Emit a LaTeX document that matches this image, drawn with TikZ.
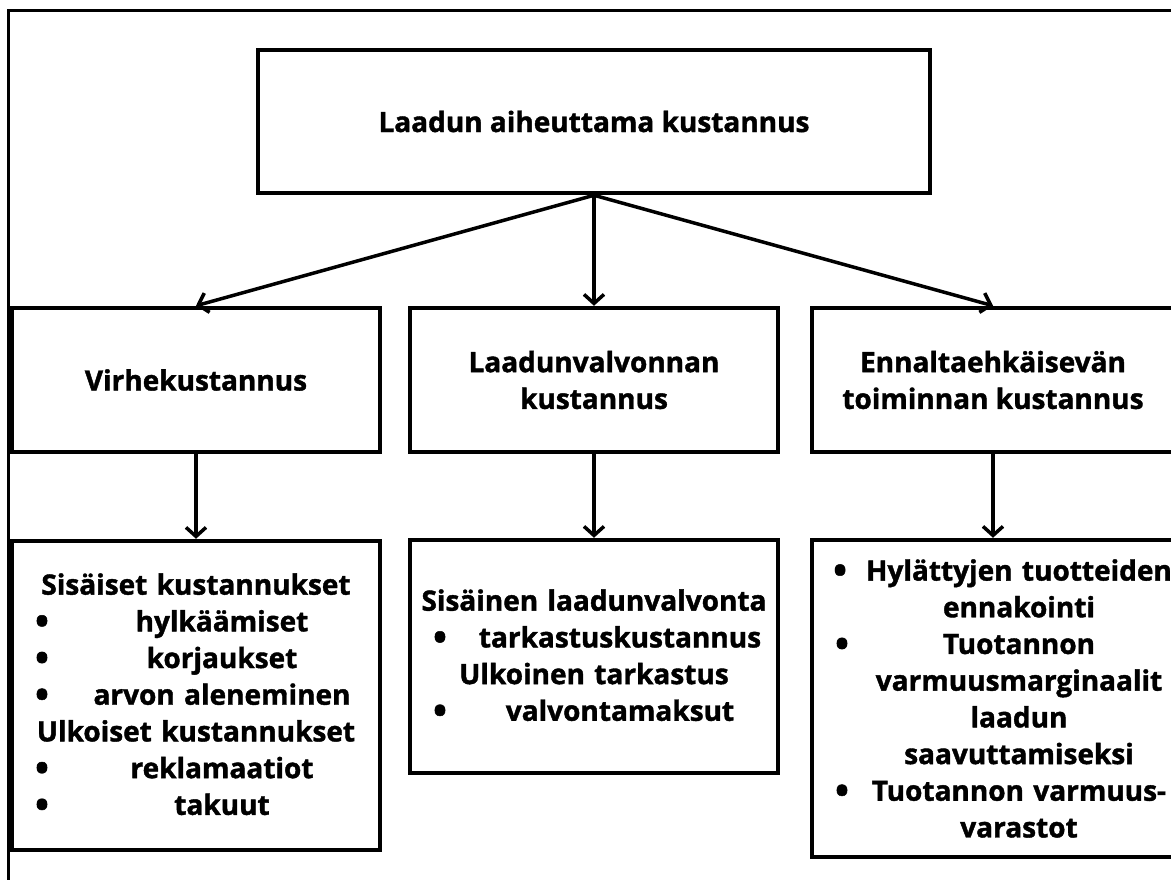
\documentclass[tikz,border=0pt]{standalone}
\usepackage{fontspec}
\setmainfont{Open Sans}[BoldFeatures={FakeBold=1.4}]
\usetikzlibrary{arrows.meta}

\newlength\bulind
\setlength\bulind{52pt}
% bullet line and its continuation lines
\newcommand\bitem[1]{\makebox[\linewidth]{\makebox[\bulind]{\raisebox{-2.8pt}{\scalebox{1.3}{\textbullet}}}\hfill #1\hfill}}
\newcommand\citem[1]{\makebox[\linewidth]{\hspace*{\bulind}\hfill #1\hfill}}

\begin{document}
\begin{tikzpicture}[x=1pt, y=-1pt,
  box/.style={draw, line width=4.5pt, inner sep=4pt, align=center,
    font=\bfseries\fontsize{28}{36.7}\selectfont},
  arr/.style={line width=3.5pt, -{Straight Barb[length=9pt,width=20pt]}}]
  % Frame
  \clip (0,0) rectangle (1171,879);
  \draw[line width=3pt] (8,10) rectangle (1200,910);

  % Top level
  \node[box, minimum width=672pt, minimum height=143pt] (laatu) at (594,121.5)
    {Laadun aiheuttama kustannus};

  % Cost types
  \node[box, minimum width=368pt, minimum height=144pt] (virhe) at (196,380)
    {Virhekustannus};
  \node[box, minimum width=368pt, minimum height=144pt] (valvonta) at (594,380)
    {Laadunvalvonnan\\kustannus};
  \node[box, minimum width=362pt, minimum height=144pt] (ennalta) at (993,380)
    {Ennaltaehkäisevän\\toiminnan kustannus};

  % Details
  \node[box, text width=360pt, minimum height=309pt] (virhelista) at (196,695.5)
    {Sisäiset kustannukset\\
     \bitem{hylkäämiset}\\
     \bitem{korjaukset}\\
     \bitem{arvon aleneminen}\\
     Ulkoiset kustannukset\\
     \bitem{reklamaatiot}\\
     \bitem{takuut}};
  \node[box, text width=360pt, minimum height=233pt] (valvontalista) at (594,656.5)
    {Sisäinen laadunvalvonta\\
     \bitem{tarkastuskustannus}\\
     Ulkoinen tarkastus\\
     \bitem{valvontamaksut}};
  \node[box, text width=354pt, minimum height=317pt] (ennaltalista) at (993,698.5)
    {\bitem{Hylättyjen tuotteiden}\\
     \citem{ennakointi}\\
     \bitem{Tuotannon}\\
     \citem{varmuusmarginaalit}\\
     \citem{laadun}\\
     \citem{saavuttamiseksi}\\
     \bitem{Tuotannon varmuus-}\\
     \citem{varastot}};

  % Arrows
  \draw[arr] (laatu.south) -- (virhe.north);
  \draw[arr] (laatu.south) -- (valvonta.north);
  \draw[arr] (laatu.south) -- (ennalta.north);
  \draw[arr] (virhe.south) -- (virhelista.north);
  \draw[arr] (valvonta.south) -- (valvontalista.north);
  \draw[arr] (ennalta.south) -- (ennaltalista.north);
\end{tikzpicture}
\end{document}
